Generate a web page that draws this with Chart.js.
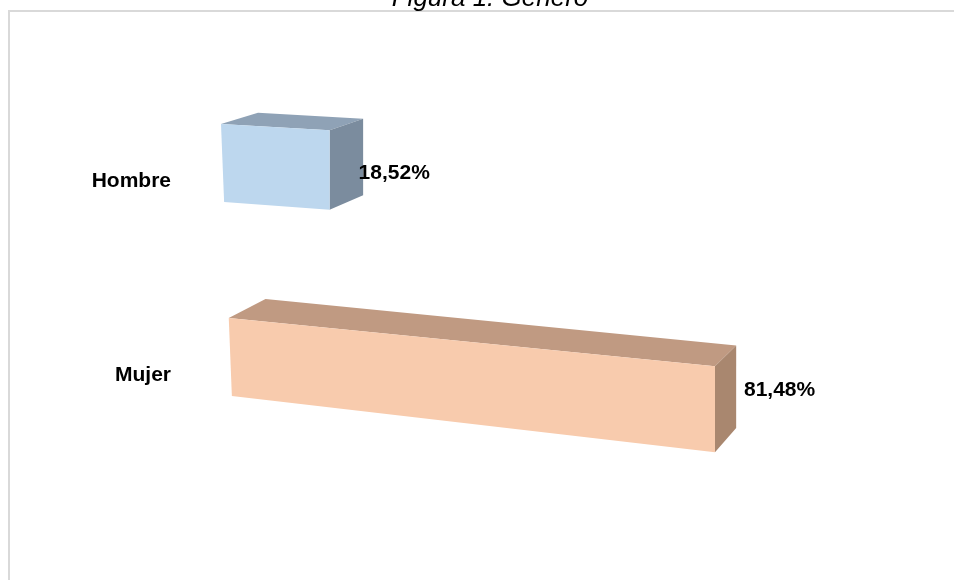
<!DOCTYPE html>
<html>
<head>
<meta charset="utf-8">
<script src="https://cdn.jsdelivr.net/npm/chart.js@4"></script>
<style>
  body { margin: 0; background: #fff; }
  #wrap { width: 954px; height: 580px; }
</style>
</head>
<body>
<div id="wrap"><canvas id="generoChart" width="954" height="580"></canvas></div>
<script>
// data
const categories = ['Hombre', 'Mujer'];
const percentages = [18.52, 81.48];
const valueLabels = ['18,52%', '81,48%'];
const chartTitle = 'Figura 1. Género';

// face colours of the 3d boxes
const frontColors = ['#BDD7EE', '#F8CBAD'];
const topColors = ['#8FA2B6', '#C09A82'];
const sideColors = ['#7B8C9E', '#A9876F'];

// rough perspective: flat chart coords -> screen coords
// px,py = flat point, yc = bar centre, base = pixel of 0, d = 0 front / 1 back
function project(px, py, yc, base, d) {
    const s = 1 + (yc - 181) * 0.00015;
    const fade = Math.max(0, 1 - (px - base) / 100);
    const shift = (yc - 142) * 0.04 + (py - yc) * 0.04 * fade;
    const left = base + (yc - 142) * 0.04 + (py - yc) * 0.04;
    const sx = base + shift + (px - base) * s;
    const k = 0.057 + (py - 142) * 0.000219;
    const sy = py - 18 + k * (sx - left);
    if (!d) return [sx, sy];
    const dx = 37 - (sx - 221) * 0.032;
    const dy = -11 - (sy - 120) * 0.04;
    return [sx + dx, sy + dy];
}

function face(ctx, pts, color) {
    ctx.beginPath();
    ctx.moveTo(pts[0][0], pts[0][1]);
    for (let i = 1; i < pts.length; i++) ctx.lineTo(pts[i][0], pts[i][1]);
    ctx.closePath();
    ctx.fillStyle = color;
    ctx.fill();
}

const boxes3d = {
    id: 'boxes3d',
    beforeDraw(chart) {
        const ctx = chart.ctx;
        ctx.save();
        // frame
        ctx.strokeStyle = '#D9D9D9';
        ctx.lineWidth = 2;
        ctx.beginPath();
        ctx.moveTo(9, 580);
        ctx.lineTo(9, 11);
        ctx.lineTo(954, 11);
        ctx.stroke();
        // title (cut off at the top like the original)
        ctx.fillStyle = '#000';
        ctx.font = 'italic 26px "Liberation Sans", Arial, sans-serif';
        ctx.textAlign = 'center';
        ctx.textBaseline = 'alphabetic';
        ctx.fillText(chartTitle, 490, 6);
        ctx.restore();
    },
    afterDatasetsDraw(chart) {
        const ctx = chart.ctx;
        const meta = chart.getDatasetMeta(0);
        const base = chart.scales.x.getPixelForValue(0);
        ctx.save();
        meta.data.forEach((el, i) => {
            const yc = el.y;
            const top = yc - el.height / 2;
            const bot = yc + el.height / 2;
            const ftl = project(el.base, top, yc, base, 0);
            const ftr = project(el.x, top, yc, base, 0);
            const fbr = project(el.x, bot, yc, base, 0);
            const fbl = project(el.base, bot, yc, base, 0);
            const btl = project(el.base, top, yc, base, 1);
            const btr = project(el.x, top, yc, base, 1);
            const bbr = project(el.x, bot, yc, base, 1);

            face(ctx, [ftl, ftr, btr, btl], topColors[i]);
            face(ctx, [ftr, btr, bbr, fbr], sideColors[i]);
            face(ctx, [ftl, ftr, fbr, fbl], frontColors[i]);

            // value label next to the right face
            const ly = ((ftr[1] + fbr[1]) / 2 + yc) / 2 - 2;
            const lx = ftr[0] + 29;
            ctx.fillStyle = '#000';
            ctx.font = 'bold 21px "Liberation Sans", Arial, sans-serif';
            ctx.textAlign = 'left';
            ctx.textBaseline = 'middle';
            ctx.fillText(valueLabels[i], lx, ly);
        });
        ctx.restore();
    }
};

new Chart(document.getElementById('generoChart').getContext('2d'), {
    type: 'bar',
    data: {
        labels: categories,
        datasets: [{
            data: percentages,
            backgroundColor: 'rgba(0,0,0,0)',
            borderWidth: 0,
            barThickness: 78
        }]
    },
    options: {
        indexAxis: 'y',
        responsive: false,
        animation: false,
        layout: { padding: { top: 84, bottom: 108, left: 0, right: 155 } },
        plugins: {
            legend: { display: false },
            tooltip: { enabled: false },
            title: { display: false }
        },
        scales: {
            x: {
                display: false,
                min: 0,
                max: 100
            },
            y: {
                grid: { display: false },
                border: { display: false },
                ticks: {
                    color: '#000',
                    padding: 42,
                    font: { family: '"Liberation Sans", Arial, sans-serif', size: 21, weight: 'bold' }
                },
                afterFit(scale) { scale.width = 221; }
            }
        }
    },
    plugins: [boxes3d]
});
</script>
</body>
</html>
